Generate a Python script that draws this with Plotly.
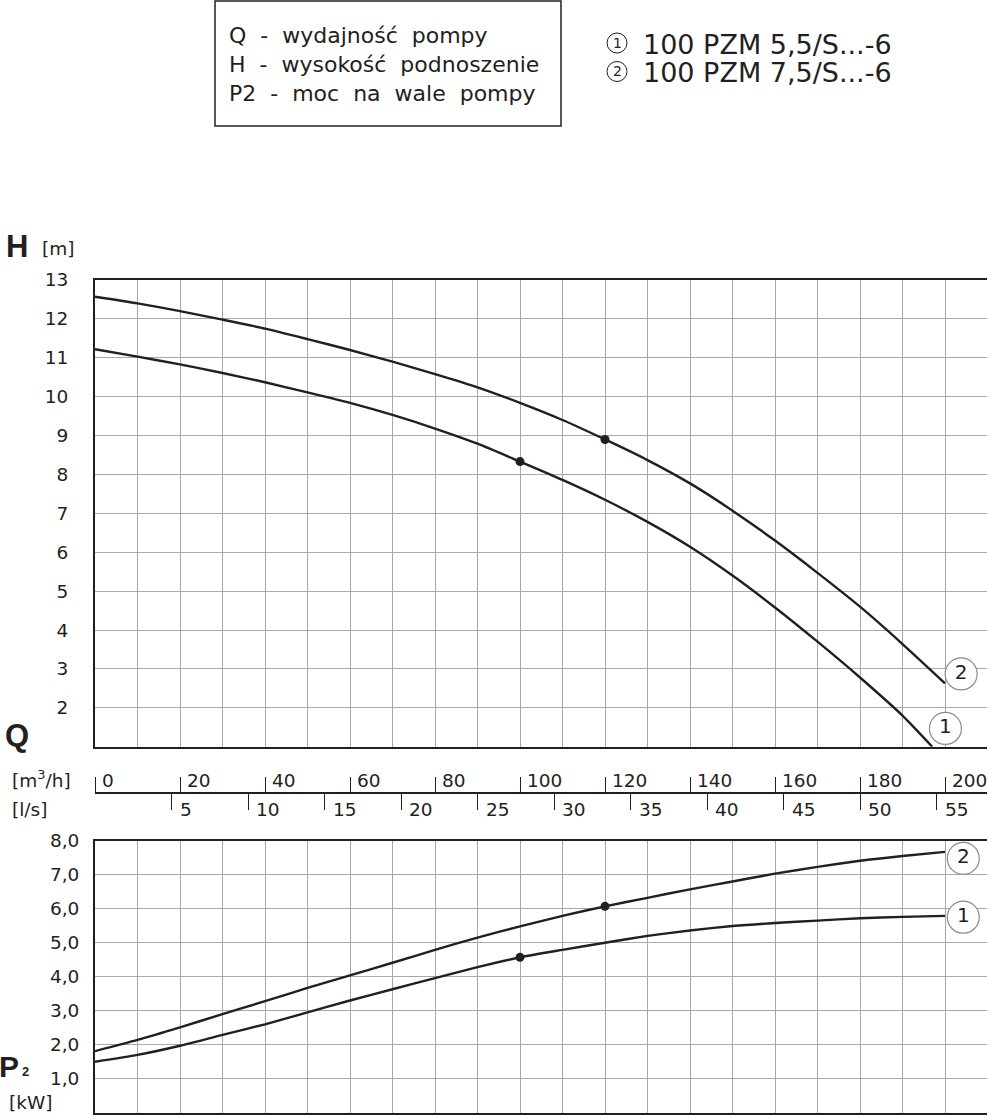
import plotly.graph_objects as go

# ---------------- data ----------------
Q_grid = list(range(0, 201, 10))           # m3/h
Q_H1 = [0, 10, 20, 30, 40, 50, 60, 70, 80, 90, 100, 110, 120, 130, 140, 150, 160, 170, 180, 190, 197]
H1 = [11.22, 11.03, 10.83, 10.61, 10.37, 10.11, 9.84, 9.53, 9.18, 8.79, 8.33, 7.86, 7.35, 6.78, 6.14, 5.40, 4.58, 3.70, 2.78, 1.80, 1.00]
Q_H2 = list(range(0, 201, 10))
H2 = [12.57, 12.40, 12.20, 11.98, 11.75, 11.48, 11.20, 10.90, 10.58, 10.24, 9.84, 9.40, 8.90, 8.37, 7.77, 7.07, 6.30, 5.47, 4.60, 3.64, 2.63]
Q_P = list(range(0, 201, 10))
P1 = [1.50, 1.70, 1.97, 2.29, 2.60, 2.95, 3.30, 3.63, 3.96, 4.28, 4.57, 4.79, 5.00, 5.20, 5.36, 5.49, 5.58, 5.65, 5.72, 5.76, 5.79]
P2 = [1.81, 2.14, 2.51, 2.90, 3.28, 3.67, 4.04, 4.41, 4.79, 5.15, 5.48, 5.79, 6.07, 6.32, 6.57, 6.80, 7.03, 7.23, 7.41, 7.55, 7.67]

# duty points
Q_dot = [100, 120]
H_dot = [8.33, 8.90]
P_dot = [4.57, 6.07]

# curve number labels
curve_labels = ["1", "2"]
lab_H_x = [200.1, 203.8]
lab_H_y = [1.47, 2.87]
lab_P_x = [204.3, 204.3]
lab_P_y = [5.75, 7.48]

H_ticks = list(range(2, 14))
H_ticktext = [str(v) for v in H_ticks]
P_ticks = [1, 2, 3, 4, 5, 6, 7, 8]
P_ticktext = ["1,0", "2,0", "3,0", "4,0", "5,0", "6,0", "7,0", "8,0"]
Qm3_ticks = list(range(0, 201, 20))
Qm3_text = [str(v) for v in Qm3_ticks]
Qls_ticks = list(range(5, 56, 5))
Qls_text = [str(v) for v in Qls_ticks]

legend_desc = ["Q  -  wydajność  pompy", "H  -  wysokość  podnoszenie", "P2  -  moc  na  wale  pompy"]
legend_models = ["100 PZM 5,5/S...-6", "100 PZM 7,5/S...-6"]

# ---------------- layout helpers ----------------
W, Hh = 987, 1116
def px(x):
    return x / W
def py(y):
    return 1 - y / Hh

FONT = "DejaVu Sans, sans-serif"
BFONT = "Liberation Sans, Arial, sans-serif"
DARK = "#231f20"
GRID = "#a8a8a8"
QMAX = (987 - 95) / 4.25
FS = 18.5

fig = go.Figure()

line_style = dict(color=DARK, width=2.4, shape="spline", smoothing=0.6)
fig.add_trace(go.Scatter(x=Q_H1, y=H1, mode="lines", line=line_style, xaxis="x", yaxis="y", hoverinfo="skip"))
fig.add_trace(go.Scatter(x=Q_H2, y=H2, mode="lines", line=line_style, xaxis="x", yaxis="y", hoverinfo="skip"))
fig.add_trace(go.Scatter(x=Q_P, y=P1, mode="lines", line=line_style, xaxis="x2", yaxis="y2", hoverinfo="skip"))
fig.add_trace(go.Scatter(x=Q_P, y=P2, mode="lines", line=line_style, xaxis="x2", yaxis="y2", hoverinfo="skip"))
fig.add_trace(go.Scatter(x=Q_dot, y=H_dot, mode="markers", marker=dict(color=DARK, size=9), xaxis="x", yaxis="y"))
fig.add_trace(go.Scatter(x=Q_dot, y=P_dot, mode="markers", marker=dict(color=DARK, size=9), xaxis="x2", yaxis="y2"))

circ = dict(size=32, color="white", line=dict(color="#8a8a8a", width=1.2))
fig.add_trace(go.Scatter(x=lab_H_x, y=lab_H_y, mode="markers+text", text=curve_labels,
                         textposition="middle center", textfont=dict(family=FONT, size=20, color=DARK),
                         marker=circ, xaxis="x", yaxis="y", cliponaxis=False))
fig.add_trace(go.Scatter(x=lab_P_x, y=lab_P_y, mode="markers+text", text=curve_labels,
                         textposition="middle center", textfont=dict(family=FONT, size=20, color=DARK),
                         marker=circ, xaxis="x2", yaxis="y2", cliponaxis=False))

# helper traces to carry the two flow scales
fig.add_trace(go.Scatter(x=[0], y=[5], mode="markers", marker=dict(opacity=0), xaxis="x3", yaxis="y", hoverinfo="skip"))
fig.add_trace(go.Scatter(x=[0], y=[5], mode="markers", marker=dict(opacity=0), xaxis="x4", yaxis="y", hoverinfo="skip"))

grid_x = dict(range=[0, QMAX], tickvals=Q_grid, showticklabels=False, ticks="",
              showgrid=True, gridcolor=GRID, gridwidth=1.2, zeroline=False,
              showline=True, mirror=True, linecolor=DARK, linewidth=2)

fig.update_layout(
    width=W, height=Hh, margin=dict(l=0, r=0, t=0, b=0, pad=0, autoexpand=False),
    paper_bgcolor="white", plot_bgcolor="white", showlegend=False,
    font=dict(family=FONT, color=DARK, size=FS),
    xaxis=dict(domain=[px(95), 1], anchor="y", **grid_x),
    yaxis=dict(domain=[py(746.7), py(280)], range=[1, 13], tickvals=H_ticks, ticktext=H_ticktext,
               showgrid=True, gridcolor=GRID, gridwidth=1.2, zeroline=False,
               showline=True, linecolor=DARK, linewidth=2, ticks="",
               ticklabelstandoff=21, tickfont=dict(size=FS)),
    xaxis2=dict(domain=[px(95), 1], anchor="y2", **grid_x),
    yaxis2=dict(domain=[py(1112.7), py(840.7)], range=[0, 8], tickvals=P_ticks, ticktext=P_ticktext,
                showgrid=True, gridcolor=GRID, gridwidth=1.2, zeroline=False,
                showline=True, linecolor=DARK, linewidth=2, ticks="",
                ticklabelstandoff=10, tickfont=dict(size=FS)),
    xaxis3=dict(overlaying="x", anchor="free", position=py(793), side="top",
                range=[0, QMAX], tickvals=Qm3_ticks, showticklabels=False,
                ticks="outside", ticklen=15, tickwidth=1.2, tickcolor=DARK,
                showline=True, linecolor=DARK, linewidth=1.5, showgrid=False, zeroline=False),
    xaxis4=dict(overlaying="x", anchor="free", position=py(793), side="bottom",
                range=[0, QMAX / 3.6], tickvals=Qls_ticks, showticklabels=False,
                ticks="outside", ticklen=16, tickwidth=1.2, tickcolor=DARK,
                showline=False, showgrid=False, zeroline=False),
)

# flow scale labels (placed right of each tick)
for v, t in zip(Qm3_ticks, Qm3_text):
    fig.add_annotation(xref="x3", yref="paper", x=v, y=py(780), text=t, showarrow=False,
                       xanchor="left", yanchor="middle", xshift=5, font=dict(family=FONT, size=FS, color=DARK))
for v, t in zip(Qls_ticks, Qls_text):
    fig.add_annotation(xref="x4", yref="paper", x=v, y=py(809), text=t, showarrow=False,
                       xanchor="left", yanchor="middle", xshift=6, font=dict(family=FONT, size=FS, color=DARK))

# header box
fig.add_shape(type="rect", xref="paper", yref="paper", x0=px(215), x1=px(561), y0=py(126), y1=py(1),
              line=dict(color=DARK, width=1.5), fillcolor="rgba(0,0,0,0)")
for i, t in enumerate(legend_desc):
    fig.add_annotation(xref="paper", yref="paper", x=px(227), y=py(36 + 28.5 * i), text=t,
                       showarrow=False, xanchor="left", yanchor="middle",
                       font=dict(family=FONT, size=22, color=DARK))
for i, t in enumerate(legend_models):
    cy = 43 + 28.5 * i
    fig.add_shape(type="circle", xref="paper", yref="paper", x0=px(607), x1=px(627), y0=py(cy + 10), y1=py(cy - 10),
                  line=dict(color=DARK, width=1))
    fig.add_annotation(xref="paper", yref="paper", x=px(617), y=py(cy), text=str(i + 1),
                       showarrow=False, xanchor="center", yanchor="middle",
                       font=dict(family=FONT, size=14, color=DARK))
    fig.add_annotation(xref="paper", yref="paper", x=px(641), y=py(cy + 1), text=t,
                       showarrow=False, xanchor="left", yanchor="middle",
                       font=dict(family=FONT, size=27, color=DARK))

# axis titles
def lab(x, y, text, size, bold=False, family=FONT):
    fig.add_annotation(xref="paper", yref="paper", x=px(x), y=py(y), text=(f"<b>{text}</b>" if bold else text),
                       showarrow=False, xanchor="left", yanchor="middle",
                       font=dict(family=family, size=size, color=DARK))

lab(4, 246, "H", 31, bold=True, family=BFONT)
lab(40, 248, "[m]", FS)
lab(3, 735, "Q", 31, bold=True, family=BFONT)
lab(10, 779, "[m<sup>3</sup>/h]", FS)
lab(10, 809, "[l/s]", FS)
lab(-3, 1066, "P", 30, bold=True, family=BFONT)
lab(20, 1071, "2", 13, bold=True, family=BFONT)
lab(7, 1102, "[kW]", FS)

fig.write_html("out.html", config={"displayModeBar": False},
               post_script="document.body.style.margin='0px';")
